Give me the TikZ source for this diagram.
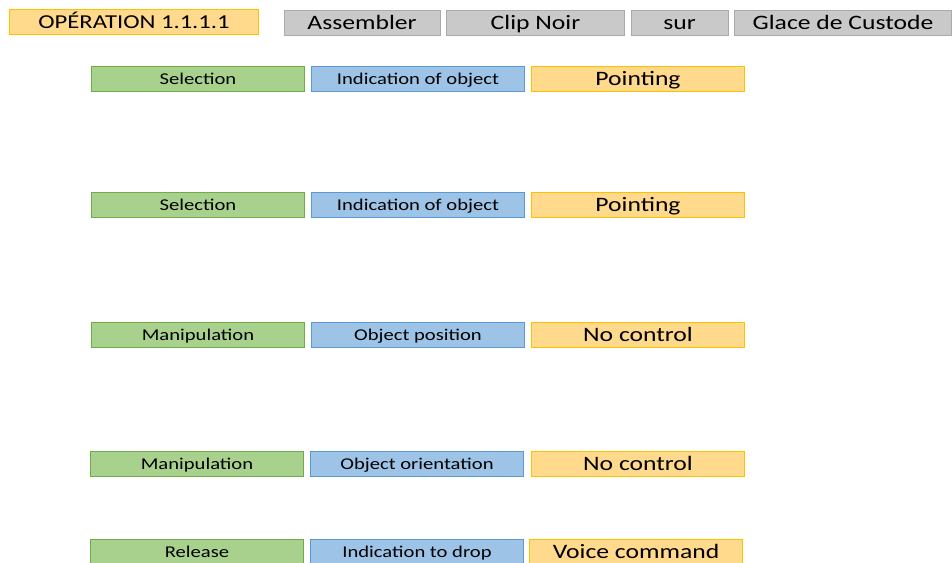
\documentclass[tikz,border=0pt]{standalone}
\usepackage{fontspec}
\setmainfont{Carlito}[FakeStretch=1.25]

\definecolor{opfill}{RGB}{255,217,140}
\definecolor{opline}{RGB}{255,192,0}
\definecolor{grayfill}{RGB}{201,201,201}
\definecolor{grayline}{RGB}{170,170,170}
\definecolor{greenfill}{RGB}{169,209,142}
\definecolor{greenline}{RGB}{112,173,71}
\definecolor{bluefill}{RGB}{157,195,230}
\definecolor{blueline}{RGB}{91,155,213}

\begin{document}
\begin{tikzpicture}[x=1pt, y=-1pt,
        box/.style={draw, rectangle, inner sep=0pt, minimum height=25pt, line width=0.9pt},
        bigtext/.style={font=\fontsize{20.5}{24}\selectfont, text height=16pt, text depth=2.6pt},
        smalltext/.style={font=\fontsize{16.5}{20}\selectfont, text height=13pt, text depth=2.2pt},
        opbox/.style={box, fill=opfill, draw=opline, font=\fontsize{19.7}{24}\selectfont, text height=15.5pt, text depth=2.6pt},
        wordbox/.style={box, bigtext, fill=grayfill, draw=grayline},
        taskbox/.style={box, smalltext, minimum width=213pt, fill=greenfill, draw=greenline},
        infobox/.style={box, smalltext, minimum width=213pt, fill=bluefill, draw=blueline},
        modebox/.style={box, bigtext, minimum width=213pt, fill=opfill, draw=opline}]
                \useasboundingbox (0,0) rectangle (952,562);
                \clip (0,0) rectangle (952,562);

                % Draw the operation header
                \node[opbox, minimum width=249pt] (op) at (134,22) {OPÉRATION 1.1.1.1};
                \node[wordbox, minimum width=156pt] (w1) at (362,23) {Assembler};
                \node[wordbox, minimum width=178pt] (w2) at (535.5,23) {Clip Noir};
                \node[wordbox, minimum width=97pt] (w3) at (679.5,23) {sur};
                \node[wordbox, minimum width=217pt] (w4) at (843,23) {Glace de Custode};

                % Draw the first step
                \node[taskbox] (t1) at (198,79) {Selection};
                \node[infobox] (i1) at (418,79) {Indication of object};
                \node[modebox] (m1) at (638,79) {Pointing};

                % Draw the second step
                \node[taskbox] (t2) at (198,205) {Selection};
                \node[infobox] (i2) at (418,205) {Indication of object};
                \node[modebox] (m2) at (638,205) {Pointing};

                % Draw the third step
                \node[taskbox] (t3) at (198,335) {Manipulation};
                \node[infobox] (i3) at (418,335) {Object position};
                \node[modebox] (m3) at (638,335) {No control};

                % Draw the fourth step
                \node[taskbox] (t4) at (197,464) {Manipulation};
                \node[infobox] (i4) at (417,464) {Object orientation};
                \node[modebox] (m4) at (638,464) {No control};

                % Draw the last step (cut by the page)
                \node[taskbox] (t5) at (197,552) {Release};
                \node[infobox] (i5) at (417,552) {Indication to drop};
                \node[modebox] (m5) at (636,552) {Voice command};
\end{tikzpicture}
\end{document}
